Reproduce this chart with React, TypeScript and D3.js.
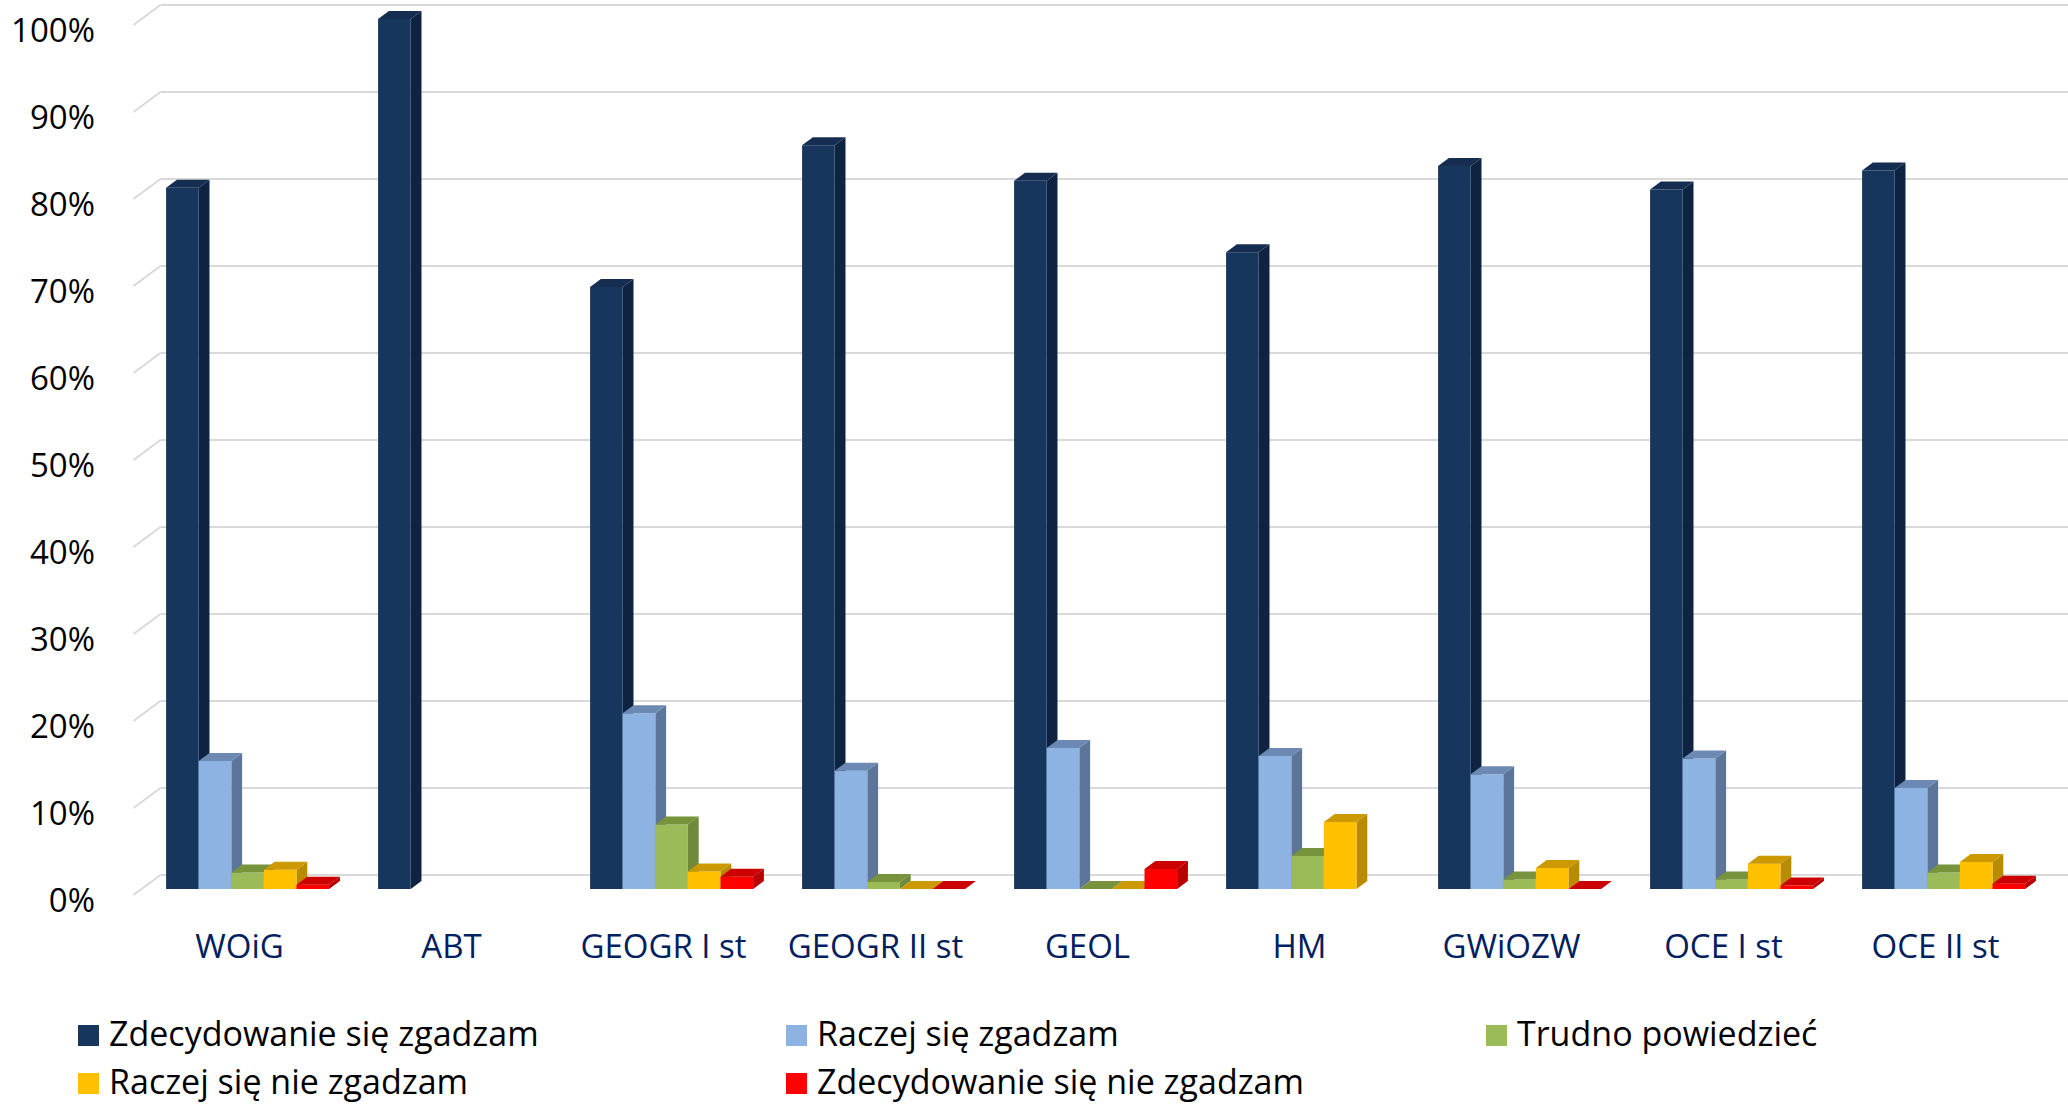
import React, { useEffect } from "react";
import * as d3 from "d3";

const categories = ["WOiG", "ABT", "GEOGR I st", "GEOGR II st", "GEOL", "HM", "GWiOZW", "OCE I st", "OCE II st"];
const seriesNames = [
  "Zdecydowanie się zgadzam",
  "Raczej się zgadzam",
  "Trudno powiedzieć",
  "Raczej się nie zgadzam",
  "Zdecydowanie się nie zgadzam",
];
const zdecydowanieTak: (number | null)[] = [80.6, 100, 69.2, 85.5, 81.4, 73.2, 83.1, 80.4, 82.6];
const raczejTak: (number | null)[] = [14.7, null, 20.2, 13.6, 16.2, 15.3, 13.2, 15.0, 11.6];
const trudno: (number | null)[] = [1.9, null, 7.4, 0.8, 0, 3.8, 1.1, 1.1, 1.9];
const raczejNie: (number | null)[] = [2.2, null, 2.0, 0, 0, 7.7, 2.4, 2.9, 3.1];
const zdecydowanieNie: (number | null)[] = [0.5, null, 1.4, 0, 2.3, null, 0, 0.4, 0.6];
const seriesValues = [zdecydowanieTak, raczejTak, trudno, raczejNie, zdecydowanieNie];
const yTicks = [0, 10, 20, 30, 40, 50, 60, 70, 80, 90, 100];

const palette = [
  { front: "#17365D", side: "#0E2341", top: "#142D50" },
  { front: "#8DB3E2", side: "#5C7599", top: "#6C89B3" },
  { front: "#9BBB59", side: "#6E8A3A", top: "#77933C" },
  { front: "#FFC000", side: "#B98B00", top: "#CC9900" },
  { front: "#FF0000", side: "#B80000", top: "#CC0000" },
];

const W = 2068;
const H = 1106;
const DX = 27; // full floor depth offset in x
const DY = 20; // full floor depth offset in y
const FONT = "'Open Sans', 'Noto Sans', sans-serif";

export default function App() {
  useEffect(() => {
    document.body.style.margin = "0";
  }, []);

  const xFront0 = 133.5;
  const xFront1 = 2041.5;
  const x0 = d3
    .scaleBand<string>()
    .domain(categories)
    .range([xFront0, xFront1])
    .paddingInner(0.231)
    .paddingOuter(0.1155);
  const x1 = d3
    .scaleBand<string>()
    .domain(seriesNames)
    .range([0, x0.bandwidth()])
    .padding(0);
  const y = d3.scaleLinear().domain([0, 100]).range([895, 25]);

  const proj = (xf: number, t: number, v: number): [number, number] => [xf + t * DX, y(v) - t * DY];
  const pts = (arr: [number, number][]) => arr.map((p) => p.join(",")).join(" ");

  const tFront = 0.3;
  const tBack = 0.7;

  const bars: React.ReactNode[] = [];
  categories.forEach((cat, ci) => {
    seriesNames.forEach((s, si) => {
      const v = seriesValues[si][ci];
      if (v === null || v === undefined) return;
      const xl = (x0(cat) as number) + (x1(s) as number);
      const xr = xl + x1.bandwidth();
      const c = palette[si];
      const fTL = proj(xl, tFront, v);
      const fTR = proj(xr, tFront, v);
      const fBR = proj(xr, tFront, 0);
      const fBL = proj(xl, tFront, 0);
      const bTL = proj(xl, tBack, v);
      const bTR = proj(xr, tBack, v);
      const bBR = proj(xr, tBack, 0);
      bars.push(
        <g key={`${ci}-${si}`}>
          {v > 0 && <polygon points={pts([fBR, bBR, bTR, fTR])} fill={c.side} />}
          {v > 0 && <polygon points={pts([fTL, fTR, fBR, fBL])} fill={c.front} />}
          <polygon points={pts([fTL, bTL, bTR, fTR])} fill={c.top} />
        </g>
      );
    });
  });

  const legendCols = [78, 786, 1486];
  const legendRows = [1025, 1073];

  return (
    <svg width={W} height={H} style={{ display: "block", background: "#fff" }}>
      {yTicks.map((t) => {
        const [xb, yb] = proj(xFront0, 1, t);
        return (
          <g key={t}>
            <line x1={xFront0} y1={y(t)} x2={xb} y2={yb} stroke="#D9D9D9" strokeWidth={2} />
            <line x1={xb} y1={yb} x2={W} y2={yb} stroke="#D9D9D9" strokeWidth={2} />
            <text
              x={95}
              y={y(t) + 17}
              textAnchor="end"
              fontFamily={FONT}
              fontSize={33}
              fill="#000"
            >
              {`${t}%`}
            </text>
          </g>
        );
      })}
      {bars}
      {categories.map((cat) => (
        <text
          key={cat}
          x={(x0(cat) as number) + x0.bandwidth() / 2}
          y={958}
          textAnchor="middle"
          fontFamily={FONT}
          fontSize={33}
          fill="#002060"
        >
          {cat}
        </text>
      ))}
      {seriesNames.map((s, i) => {
        const col = i % 3;
        const row = Math.floor(i / 3);
        const lx = legendCols[col];
        const ly = legendRows[row];
        return (
          <g key={s}>
            <rect x={lx} y={ly} width={21} height={21} fill={palette[i].front} />
            <text x={lx + 31} y={ly + 21} fontFamily={FONT} fontSize={34} fill="#000">
              {s}
            </text>
          </g>
        );
      })}
    </svg>
  );
}
